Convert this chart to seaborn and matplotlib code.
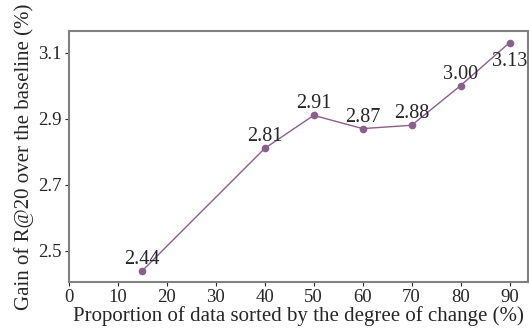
import matplotlib
matplotlib.use("Agg")
import matplotlib.pyplot as plt
import seaborn as sns
import pandas as pd

proportion = [15, 40, 50, 60, 70, 80, 90]
gain = [2.44, 2.81, 2.91, 2.87, 2.88, 3.00, 3.13]
labels = ["2.44", "2.81", "2.91", "2.87", "2.88", "3.00", "3.13"]
yticks = [2.5, 2.7, 2.9, 3.1]

data = pd.DataFrame({"Proportion": proportion, "Gain": gain})

sns.set_style("ticks")
plt.rcParams["font.family"] = ["Liberation Serif", "DejaVu Serif"]

fig, ax = plt.subplots(figsize=(5.29, 3.32), dpi=100)
sns.lineplot(data=data, x="Proportion", y="Gain", ax=ax, color="#8c5e8c",
             marker="o", markersize=5.5, markeredgewidth=0, linewidth=1)

for x, y, t in zip(proportion, gain, labels):
    # the last label sits under its point, like in the original
    dy = -23 if t == "3.13" else 7
    ax.annotate(t, (x, y), xytext=(0, dy), textcoords="offset pixels",
                ha="center", va="baseline", fontsize=14.5)

ax.set_xlim(left=0)
ax.set_xticks(range(0, 100, 10))
ax.set_yticks(yticks)
ax.set_xlabel("Proportion of data sorted by the degree of change (%)", fontsize=15, labelpad=0)
ax.set_ylabel("Gain of R@20 over the baseline (%)", fontsize=15, labelpad=3)
ax.tick_params(labelsize=13.5, length=3, width=0.8, pad=2)
for s in ["left", "bottom", "top", "right"]:
    ax.spines[s].set_color("#808080")
    ax.spines[s].set_linewidth(1.5)

fig.subplots_adjust(left=0.13, right=0.998, top=0.906, bottom=0.15)
fig.savefig("out.png", dpi=100)
